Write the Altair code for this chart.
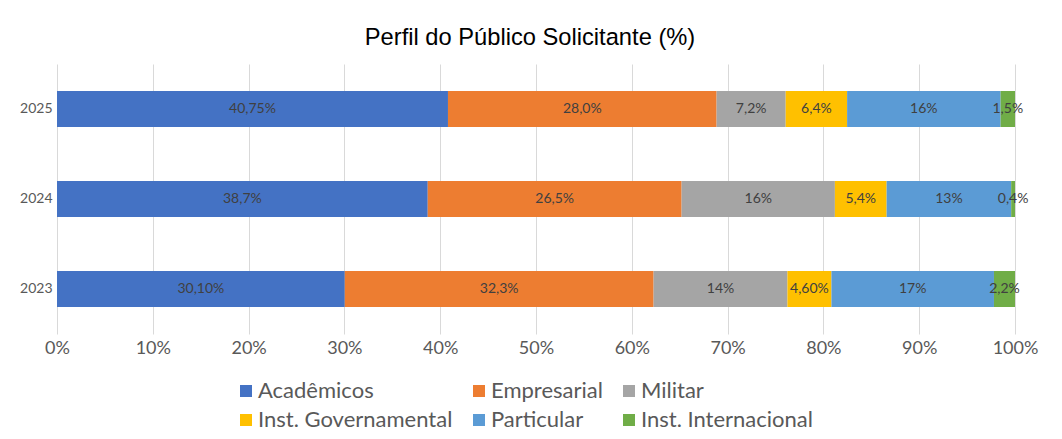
import altair as alt
import pandas as pd

years = ["2025", "2024", "2023"]
categories = ["Acadêmicos", "Empresarial", "Militar", "Inst. Governamental", "Particular", "Inst. Internacional"]
colors = ["#4472c4", "#ed7d31", "#a5a5a5", "#ffc000", "#5b9bd5", "#70ad47"]

values_2025 = [40.75, 28.0, 7.2, 6.4, 16, 1.5]
values_2024 = [38.7, 26.5, 16, 5.4, 13, 0.4]
values_2023 = [30.10, 32.3, 14, 4.60, 17, 2.2]

labels_2025 = ["40,75%", "28,0%", "7,2%", "6,4%", "16%", "1,5%"]
labels_2024 = ["38,7%", "26,5%", "16%", "5,4%", "13%", "0,4%"]
labels_2023 = ["30,10%", "32,3%", "14%", "4,60%", "17%", "2,2%"]

rows = []
for y, vals, labs in [("2025", values_2025, labels_2025),
                      ("2024", values_2024, labels_2024),
                      ("2023", values_2023, labels_2023)]:
    for i, (c, v, l) in enumerate(zip(categories, vals, labs)):
        rows.append({"year": y, "cat": c, "value": v, "label": l, "order": i})
df = pd.DataFrame(rows)

base = alt.Chart(df).transform_stack(
    stack="value", groupby=["year"], sort=[alt.SortField("order", order="ascending")],
    as_=["x0", "x1"], offset="normalize"
).transform_calculate(mid="(datum.x0 + datum.x1) / 2")

yenc = alt.Y("year:N", sort=years, title=None,
             scale=alt.Scale(paddingInner=0.6, paddingOuter=0.3),
             axis=alt.Axis(ticks=False, domain=False, labelFont="Lato", labelFontSize=14,
                           labelColor="#595959", labelPadding=5, grid=False))

bars = base.mark_bar().encode(
    x=alt.X("x0:Q", title=None, scale=alt.Scale(domain=[0, 1]),
            axis=alt.Axis(format=".0%", values=[i / 10 for i in range(11)], ticks=False, domain=False,
                          labelFont="Lato", labelFontSize=18, labelColor="#595959", labelPadding=5,
                          labelFlush=False, labelOverlap=False,
                          grid=True, gridColor="#d9d9d9", gridWidth=1)),
    x2="x1:Q",
    y=yenc,
    color=alt.Color("cat:N", scale=alt.Scale(domain=categories, range=colors), title=None,
                    legend=alt.Legend(orient="none", legendX=178, legendY=316, columns=3, direction="horizontal",
                                      symbolType="square", symbolSize=144, symbolStrokeWidth=0,
                                      labelFont="Lato", labelFontSize=22, labelColor="#595959",
                                      labelOffset=1, columnPadding=15, rowPadding=7, padding=0,
                                      labelLimit=400)),
)

texts = base.mark_text(font="Lato", fontSize=14, color="#404040").encode(
    x=alt.X("mid:Q"),
    y=alt.Y("year:N", sort=years),
    text="label:N",
)

chart = alt.layer(bars, texts).properties(
    width=958, height=270,
    title=alt.TitleParams("Perfil do Público Solicitante (%)", font="Liberation Sans", fontSize=23.7,
                          fontWeight="normal", color="#000000", anchor="middle", dx=-6, offset=14),
    autosize=alt.AutoSizeParams(type="none"),
    padding={"left": 49, "top": 56, "right": 39, "bottom": 97},
).configure_view(stroke=None)

chart.save("out.html", embed_options={"renderer": "svg", "actions": False})
